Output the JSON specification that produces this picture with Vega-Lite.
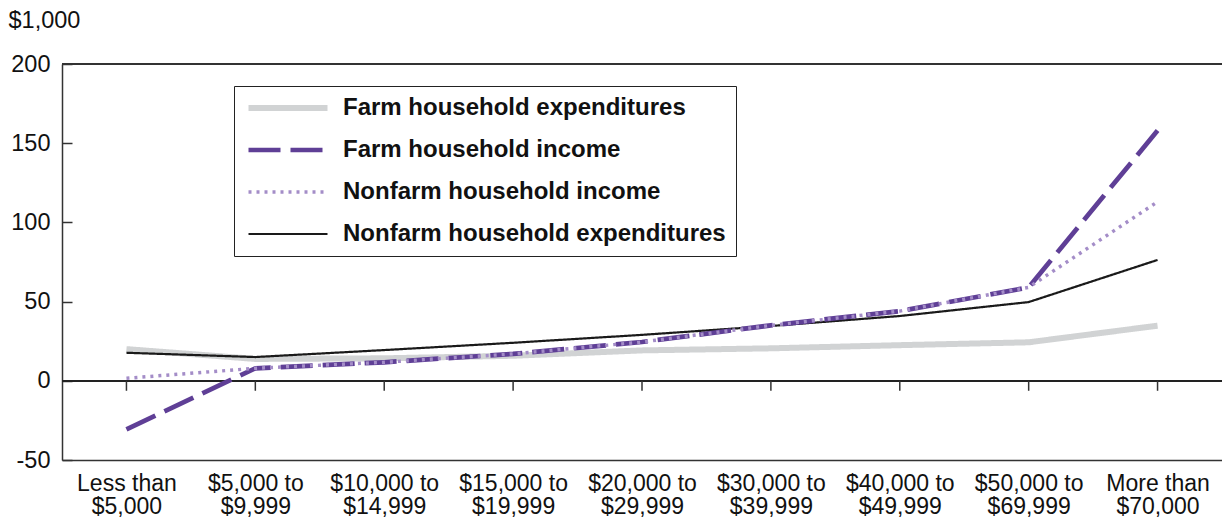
{
  "$schema": "https://vega.github.io/schema/vega-lite/v6.json",
  "width": 1160,
  "height": 396,
  "autosize": {"type": "none"},
  "padding": {"left": 62, "top": 64, "right": 0, "bottom": 63},
  "background": "white",
  "config": {
    "view": {"stroke": null},
    "font": "Liberation Sans",
    "axis": {"labelFont": "Liberation Sans", "titleFont": "Liberation Sans", "labelColor": "#111111", "titleColor": "#111111"}
  },
  "datasets": {
    "main": [
      {"cat": "Less than|$5,000", "series": "Farm household expenditures", "value": 20.0},
      {"cat": "$5,000 to|$9,999", "series": "Farm household expenditures", "value": 13.8},
      {"cat": "$10,000 to|$14,999", "series": "Farm household expenditures", "value": 14.2},
      {"cat": "$15,000 to|$19,999", "series": "Farm household expenditures", "value": 15.8},
      {"cat": "$20,000 to|$29,999", "series": "Farm household expenditures", "value": 19.2},
      {"cat": "$30,000 to|$39,999", "series": "Farm household expenditures", "value": 20.5},
      {"cat": "$40,000 to|$49,999", "series": "Farm household expenditures", "value": 22.5},
      {"cat": "$50,000 to|$69,999", "series": "Farm household expenditures", "value": 24.3},
      {"cat": "More than|$70,000", "series": "Farm household expenditures", "value": 34.8},
      {"cat": "Less than|$5,000", "series": "Nonfarm household expenditures", "value": 17.7},
      {"cat": "$5,000 to|$9,999", "series": "Nonfarm household expenditures", "value": 15.0},
      {"cat": "$10,000 to|$14,999", "series": "Nonfarm household expenditures", "value": 19.4},
      {"cat": "$15,000 to|$19,999", "series": "Nonfarm household expenditures", "value": 24.0},
      {"cat": "$20,000 to|$29,999", "series": "Nonfarm household expenditures", "value": 29.0},
      {"cat": "$30,000 to|$39,999", "series": "Nonfarm household expenditures", "value": 34.6},
      {"cat": "$40,000 to|$49,999", "series": "Nonfarm household expenditures", "value": 40.9},
      {"cat": "$50,000 to|$69,999", "series": "Nonfarm household expenditures", "value": 49.7},
      {"cat": "More than|$70,000", "series": "Nonfarm household expenditures", "value": 76.3},
      {"cat": "Less than|$5,000", "series": "Farm household income", "value": -30.6},
      {"cat": "$5,000 to|$9,999", "series": "Farm household income", "value": 7.9},
      {"cat": "$10,000 to|$14,999", "series": "Farm household income", "value": 11.7},
      {"cat": "$15,000 to|$19,999", "series": "Farm household income", "value": 17.0},
      {"cat": "$20,000 to|$29,999", "series": "Farm household income", "value": 24.5},
      {"cat": "$30,000 to|$39,999", "series": "Farm household income", "value": 35.0},
      {"cat": "$40,000 to|$49,999", "series": "Farm household income", "value": 44.0},
      {"cat": "$50,000 to|$69,999", "series": "Farm household income", "value": 59.0},
      {"cat": "More than|$70,000", "series": "Farm household income", "value": 158.0},
      {"cat": "Less than|$5,000", "series": "Nonfarm household income", "value": 1.6},
      {"cat": "$5,000 to|$9,999", "series": "Nonfarm household income", "value": 7.9},
      {"cat": "$10,000 to|$14,999", "series": "Nonfarm household income", "value": 11.7},
      {"cat": "$15,000 to|$19,999", "series": "Nonfarm household income", "value": 17.0},
      {"cat": "$20,000 to|$29,999", "series": "Nonfarm household income", "value": 24.5},
      {"cat": "$30,000 to|$39,999", "series": "Nonfarm household income", "value": 35.0},
      {"cat": "$40,000 to|$49,999", "series": "Nonfarm household income", "value": 44.0},
      {"cat": "$50,000 to|$69,999", "series": "Nonfarm household income", "value": 59.0},
      {"cat": "More than|$70,000", "series": "Nonfarm household income", "value": 113.0}
    ]
  },
  "data": {"name": "main"},
  "encoding": {
    "x": {
      "field": "cat",
      "type": "nominal",
      "sort": null,
      "scale": {"type": "point", "padding": 0.5},
      "axis": {
        "orient": "bottom",
        "title": null,
        "labelAngle": 0,
        "labelExpr": "split(datum.value, '|')",
        "labelFontSize": 23,
        "labelLineHeight": 23.5,
        "labelPadding": 12,
        "ticks": false,
        "domainColor": "#333333",
        "domainWidth": 1.5,
        "grid": false
      }
    },
    "y": {
      "field": "value",
      "type": "quantitative",
      "scale": {"domain": [-50, 200], "nice": false, "zero": false},
      "axis": {
        "title": "$1,000",
        "titleAngle": 0,
        "titleAlign": "left",
        "titleBaseline": "middle",
        "titleX": -54,
        "titleY": -44,
        "titleFontSize": 23.5,
        "titleFontWeight": "normal",
        "values": [-50, 0, 50, 100, 150, 200],
        "labelExpr": "'' + datum.value",
        "labelFontSize": 23.5,
        "labelPadding": 22,
        "tickSize": -10,
        "tickColor": "#333333",
        "tickWidth": 1.5,
        "domainColor": "#333333",
        "domainWidth": 1.5,
        "grid": false
      }
    }
  },
  "layer": [
    {
      "mark": {"type": "rule", "color": "#333333", "strokeWidth": 1.5},
      "encoding": {"x": {"value": 0}, "x2": {"value": 1160}, "y": {"datum": 200}}
    },
    {
      "mark": {"type": "rule", "color": "#222222", "strokeWidth": 1.5},
      "encoding": {"x": {"value": 0}, "x2": {"value": 1160}, "y": {"datum": 0}}
    },
    {
      "transform": [{"filter": "datum.series === 'Farm household expenditures'"}],
      "mark": {"type": "rule", "color": "#333333", "strokeWidth": 1.5},
      "encoding": {"y": {"datum": 0}, "y2": {"datum": -6.3}}
    },
    {
      "mark": {"type": "line", "strokeCap": "butt", "strokeJoin": "round"},
      "encoding": {
        "color": {
          "field": "series",
          "type": "nominal",
          "scale": {
            "domain": ["Farm household expenditures", "Farm household income", "Nonfarm household income", "Nonfarm household expenditures"],
            "range": ["#d1d3d4", "#5f3f96", "#a48dc8", "#1a1a1a"]
          },
          "legend": {
            "title": null,
            "orient": "none",
            "legendX": 172,
            "legendY": 22,
            "direction": "vertical",
            "strokeColor": "#222222",
            "fillColor": "white",
            "padding": 10,
            "symbolType": "M-1.5,0H14.3",
            "symbolSize": 100,
            "labelFontSize": 24,
            "labelFontWeight": "bold",
            "labelColor": "#111111",
            "labelOffset": 75,
            "rowPadding": 18,
            "labelLimit": 500
          }
        },
        "strokeDash": {
          "field": "series",
          "type": "nominal",
          "scale": {
            "domain": ["Farm household expenditures", "Farm household income", "Nonfarm household income", "Nonfarm household expenditures"],
            "range": [[1, 0], [32, 10], [3, 5], [1, 0]]
          },
          "legend": null
        },
        "strokeWidth": {
          "field": "series",
          "type": "nominal",
          "scale": {
            "domain": ["Farm household expenditures", "Farm household income", "Nonfarm household income", "Nonfarm household expenditures"],
            "range": [6, 2.2, 5, 2]
          },
          "legend": null
        }
      }
    }
  ]
}
